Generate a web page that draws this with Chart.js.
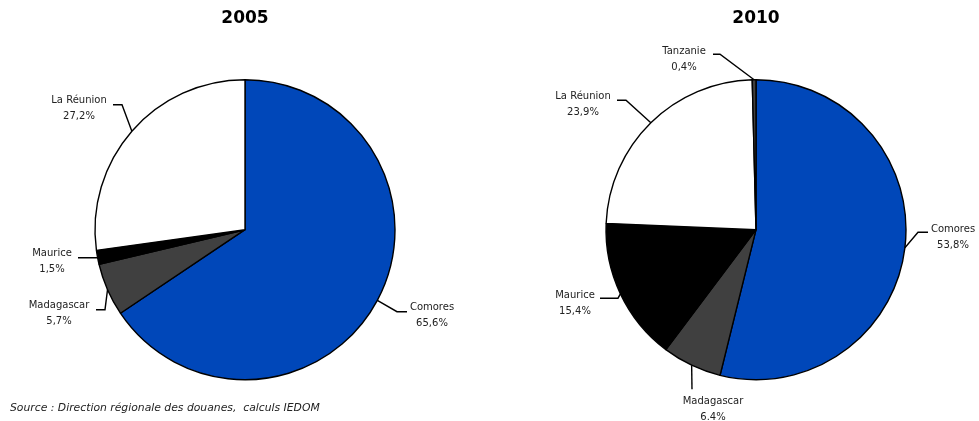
<!DOCTYPE html>
<html lang="fr">
<head>
<meta charset="utf-8">
<title>Répartition des exportations</title>
<script src="https://cdn.jsdelivr.net/npm/chart.js@4.4.1/dist/chart.umd.min.js"></script>
<style>
    html, body { margin: 0; padding: 0; background: #fff; }
    #page { position: relative; width: 979px; height: 421px; overflow: hidden; }
    canvas { position: absolute; top: 0; }
    #pie2005 { left: 0; }
    #pie2010 { left: 490px; }
    #source {
        position: absolute; left: 10px; top: 401px;
        font: italic 10.8px "DejaVu Sans", sans-serif; color: #222;
        white-space: pre;
    }
</style>
</head>
<body>
<div id="page">
    <canvas id="pie2005" width="490" height="421"></canvas>
    <canvas id="pie2010" width="489" height="421"></canvas>
    <div id="source">Source : Direction régionale des douanes,  calculs IEDOM</div>
</div>
<script>
// Données 2005
const categories2005 = ['Comores', 'Madagascar', 'Maurice', 'La Réunion'];
const values2005 = [65.6, 5.7, 1.5, 27.2];

// Données 2010
const categories2010 = ['Comores', 'Madagascar', 'Maurice', 'La Réunion', 'Tanzanie'];
const values2010 = [53.8, 6.4, 15.4, 23.9, 0.4];

const couleurs = {
    'Comores': '#0047B9',
    'Madagascar': '#404040',
    'Maurice': '#000000',
    'La Réunion': '#ffffff',
    'Tanzanie': '#404040'
};

// Placement des étiquettes, relatif au centre du camembert :
// coude du trait, fin du trait horizontal, centre du texte
const etiquettes2005 = [
    { coude: [152, 82], fin: [162, 82], texte: [187, 78] },
    { coude: [-140, 80], fin: [-149, 80], texte: [-186, 76] },
    { coude: [-147, 28], fin: [-167, 28], texte: [-193, 24] },
    { coude: [-123, -125], fin: [-132, -125], texte: [-166, -129] }
];
const etiquettes2010 = [
    { coude: [162, 2.5], fin: [172, 2.5], texte: [197, -0.5] },
    { coude: [-64, 159.5], fin: [-64, 159.5], texte: [-43, 171.5], sep: '.' },
    { coude: [-138, 68.5], fin: [-156, 68.5], texte: [-181, 65.5] },
    { coude: [-130, -129.5], fin: [-139, -129.5], texte: [-173, -133.5] },
    { coude: [-36, -175.5], fin: [-43, -175.5], texte: [-72, -178.5] }
];

function formatPct(v, sep) {
    return v.toFixed(1).replace('.', sep || ',') + '%';
}

// Dessine les traits de rappel et les libellés de chaque part
const pluginEtiquettes = {
    id: 'etiquettes',
    afterDraw(chart, args, opts) {
        const ctx = chart.ctx;
        const meta = chart.getDatasetMeta(0);
        const valeurs = chart.data.datasets[0].data;
        ctx.save();
        ctx.strokeStyle = '#000';
        ctx.lineWidth = 1.4;
        ctx.fillStyle = '#222';
        ctx.font = '10px "DejaVu Sans", sans-serif';
        ctx.textAlign = 'center';
        ctx.textBaseline = 'middle';
        meta.data.forEach((arc, i) => {
            const p = arc.getProps(['x', 'y', 'startAngle', 'endAngle', 'outerRadius'], true);
            const lab = opts.items[i];
            const mid = (p.startAngle + p.endAngle) / 2;
            const ex = p.x + Math.cos(mid) * p.outerRadius;
            const ey = p.y + Math.sin(mid) * p.outerRadius;
            ctx.beginPath();
            ctx.moveTo(ex, ey);
            ctx.lineTo(p.x + lab.coude[0], p.y + lab.coude[1]);
            ctx.lineTo(p.x + lab.fin[0], p.y + lab.fin[1]);
            ctx.stroke();
            const tx = p.x + lab.texte[0];
            const ty = p.y + lab.texte[1];
            ctx.fillText(chart.data.labels[i], tx, ty);
            ctx.fillText(formatPct(valeurs[i], lab.sep), tx, ty + 16);
        });
        ctx.restore();
    }
};

function creerCamembert(id, titre, labels, valeurs, etiquettes, padding) {
    return new Chart(document.getElementById(id), {
        type: 'pie',
        data: {
            labels: labels,
            datasets: [{
                data: valeurs,
                backgroundColor: labels.map(l => couleurs[l]),
                borderColor: '#000',
                borderWidth: 1.4
            }]
        },
        options: {
            responsive: false,
            animation: false,
            devicePixelRatio: 1,
            layout: { padding: padding },
            plugins: {
                legend: { display: false },
                tooltip: { enabled: false },
                title: {
                    display: true,
                    text: titre,
                    color: '#000',
                    font: { family: '"DejaVu Sans", sans-serif', size: 17, weight: 'bold' },
                    padding: { top: 8, bottom: 50.6 }
                },
                etiquettes: { items: etiquettes }
            }
        },
        plugins: [pluginEtiquettes]
    });
}

creerCamembert('pie2005', '2005', categories2005, values2005, etiquettes2005,
    { left: 94.3, right: 94.3, top: 0, bottom: 40.6 });
creerCamembert('pie2010', '2010', categories2010, values2010, etiquettes2010,
    { left: 115.3, right: 72.3, top: 0, bottom: 40.6 });
</script>
</body>
</html>
